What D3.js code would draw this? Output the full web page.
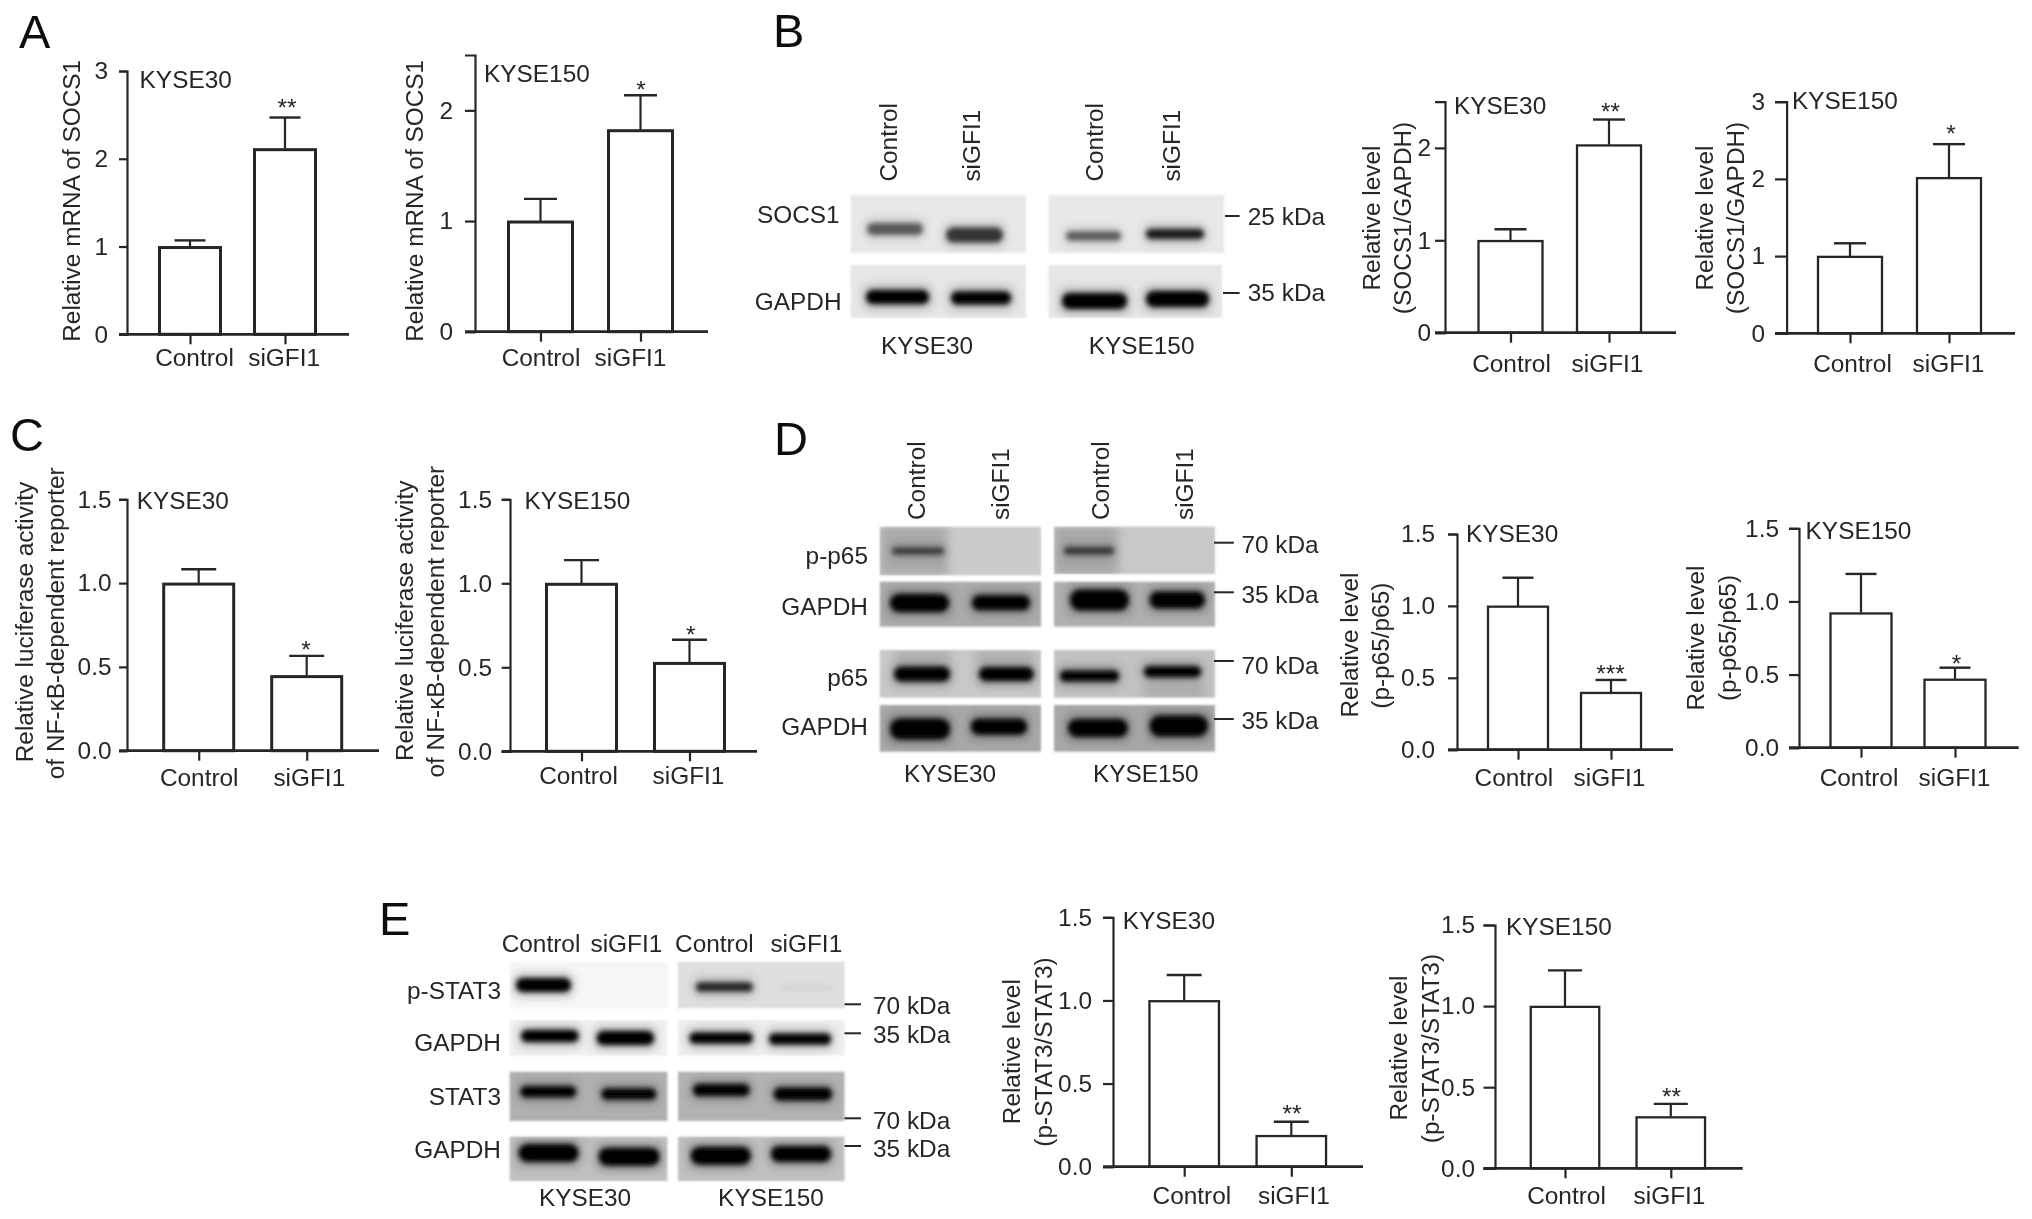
<!DOCTYPE html>
<html><head><meta charset="utf-8">
<script src="https://cdnjs.cloudflare.com/ajax/libs/d3/7.8.5/d3.min.js"></script>
<style>html,body{margin:0;padding:0;background:#fff}svg{display:block}
text{font-family:"Liberation Sans",Arial,sans-serif;fill:#262626;font-size:24.4px}</style>
</head><body><div id="chart"></div>
<script>
// ---------- data ----------
const categories = ['Control', 'siGFI1'];
const ticksInt = [0, 1, 2, 3];
const ticksHalf = [0, 0.5, 1.0, 1.5];

const a1Means = [1.0, 2.115], a1Tops = [1.07, 2.47], a1Stars = ['', '**'];
const a2Means = [1.0, 1.825], a2Tops = [1.20, 2.136], a2Stars = ['', '*'];
const b1Means = [1.0, 2.035], b1Tops = [1.12, 2.307], b1Stars = ['', '**'];
const b2Means = [1.0, 2.02], b2Tops = [1.166, 2.45], b2Stars = ['', '*'];
const c1Means = [1.0, 0.448], c1Tops = [1.083, 0.566], c1Stars = ['', '*'];
const c2Means = [1.0, 0.529], c2Tops = [1.138, 0.664], c2Stars = ['', '*'];
const d1Means = [1.0, 0.40], d1Tops = [1.196, 0.485], d1Stars = ['', '***'];
const d2Means = [0.923, 0.47], d2Tops = [1.188, 0.547], d2Stars = ['', '*'];
const e1Means = [1.0, 0.189], e1Tops = [1.153, 0.27], e1Stars = ['', '**'];
const e2Means = [1.0, 0.319], e2Tops = [1.22, 0.397], e2Stars = ['', '**'];

// ---------- layout of the bar panels ----------
const panels = [
 {m:a1Means,t:a1Tops,s:a1Stars,max:3,ticks:[0,1,2,3],fmt:'d',ax:127,y0:334.3,yT:71,x0:119,x1:349,tk:[190,285],bw:61,cap:31,lab:[194,283.6],labY:357.7,pad:11,title:'KYSE30',tx:139.6,ty:79.3,star:[287,105],yl:[[71.7,200.8,'Relative mRNA of SOCS1']],sw:3},
 {m:a2Means,t:a2Tops,s:a2Stars,max:2.5,ticks:[0,1,2],fmt:'d',ax:475,y0:331.7,yT:55,x0:465,x1:708,tk:[540.5,640.5],bw:64,cap:33,lab:[540.5,630],labY:357.7,pad:12,title:'KYSE150',tx:484,ty:73,star:[641,86.7],yl:[[414.4,200.8,'Relative mRNA of SOCS1']],sw:3},
 {m:b1Means,t:b1Tops,s:b1Stars,max:2.5,ticks:[0,1,2],fmt:'d',ax:1445,y0:332.7,yT:101.7,x0:1435,x1:1676,tk:[1510.5,1609],bw:64,cap:32,lab:[1511,1607],labY:363,pad:4,title:'KYSE30',tx:1454,ty:105,star:[1610.5,109],yl:[[1371,218,'Relative level'],[1402,218,'(SOCS1/GAPDH)']],sw:2.3},
 {m:b2Means,t:b2Tops,s:b2Stars,max:3,ticks:[0,1,2,3],fmt:'d',ax:1786.6,y0:333.3,yT:101.7,x0:1775,x1:2015,tk:[1850,1949],bw:64,cap:32,lab:[1852,1948],labY:363,pad:10,title:'KYSE150',tx:1792,ty:100,star:[1951,130.7],yl:[[1704,218,'Relative level'],[1735,218,'(SOCS1/GAPDH)']],sw:2.3},
 {m:c1Means,t:c1Tops,s:c1Stars,max:1.5,ticks:ticksHalf,fmt:'.1f',ax:127,y0:750.7,yT:499.3,x0:119,x1:379,tk:[198.7,306.7],bw:70,cap:35,lab:[198.7,308.8],labY:777.7,pad:7.5,title:'KYSE30',tx:136.7,ty:500,star:[306,647],yl:[[24,622,'Relative luciferase activity'],[54.8,623.3,'of NF-κB-dependent reporter']],sw:3},
 {m:c2Means,t:c2Tops,s:c2Stars,max:1.5,ticks:ticksHalf,fmt:'.1f',ax:510,y0:751.3,yT:499.3,x0:501.7,x1:757,tk:[581.5,689.5],bw:70,cap:35,lab:[578,688],labY:775.7,pad:9.7,title:'KYSE150',tx:524.5,ty:500,star:[690.7,631.7],yl:[[404.7,620.8,'Relative luciferase activity'],[434.8,621.7,'of NF-κB-dependent reporter']],sw:3},
 {m:d1Means,t:d1Tops,s:d1Stars,max:1.5,ticks:ticksHalf,fmt:'.1f',ax:1457,y0:749.7,yT:534,x0:1448,x1:1673,tk:[1518,1611],bw:60,cap:31,lab:[1513.4,1609],labY:777.3,pad:13,title:'KYSE30',tx:1466,ty:533,star:[1610.5,670.7],yl:[[1349,645,'Relative level'],[1380.6,645.7,'(p-p65/p65)']],sw:2.3},
 {m:d2Means,t:d2Tops,s:d2Stars,max:1.5,ticks:ticksHalf,fmt:'.1f',ax:1799,y0:747.7,yT:528.3,x0:1789,x1:2018.7,tk:[1861,1955],bw:61,cap:31,lab:[1858.5,1954],labY:777.3,pad:10,title:'KYSE150',tx:1805.6,ty:530.7,star:[1956.5,660.7],yl:[[1695,638,'Relative level'],[1727,638,'(p-p65/p65)']],sw:2.3},
 {m:e1Means,t:e1Tops,s:e1Stars,max:1.5,ticks:ticksHalf,fmt:'.1f',ax:1113,y0:1166.7,yT:917.3,x0:1103,x1:1363,tk:[1184.2,1291.3],bw:69.5,cap:35,lab:[1191.4,1293.4],labY:1195,pad:11,title:'KYSE30',tx:1122.8,ty:920.7,star:[1292,1110.7],yl:[[1011,1051.7,'Relative level'],[1043,1052,'(p-STAT3/STAT3)']],sw:2.3},
 {m:e2Means,t:e2Tops,s:e2Stars,max:1.5,ticks:ticksHalf,fmt:'.1f',ax:1495,y0:1168.3,yT:925,x0:1483.5,x1:1742.7,tk:[1565,1670.8],bw:68.5,cap:34,lab:[1566,1669],labY:1195,pad:8.5,title:'KYSE150',tx:1506,ty:926.7,star:[1671.5,1094],yl:[[1398,1048,'Relative level'],[1430,1048.6,'(p-STAT3/STAT3)']],sw:2.3},
];

// ---------- layout of the blots: gels [x1,x2,y1,y2,grey], smudges [x1,x2,y1,y2,opacity], bands [x1,x2,yc,h,darkness] ----------
const blots = [
 {gels:[[850.6,1026,195,253,'#e8e8e8'],[1048.6,1224,195,253,'#e8e8e8'],[850.6,1026,265,318,'#e6e6e6'],[1048.6,1222,265,318,'#e6e6e6']],
  smudges:[],
  bands:[[867,923,229,12,.55],[946,1003,235,15,.72],[1066,1121,236,9,.55],[1146,1204,234,10,.85],
         [866,929,297,14,1],[951,1011,298,13,1],[1062,1127,301,16,1],[1146,1209,299,16,1]]},
 {gels:[[879.8,1041,526.7,575.3,'#cbcbcb'],[1054,1215,526.7,574,'#c8c8c8'],[879.8,1041,581.7,626.7,'#ababab'],[1054,1215,581.7,626.7,'#b0b0b0'],
        [879.8,1041,650,697.7,'#c8c8c8'],[1054,1215,650,697.7,'#c2c2c2'],[879.8,1041,705,751.7,'#a8a8a8'],[1054,1215,705,751.7,'#a8a8a8']],
  smudges:[[880,948,526,576,.16],[1054,1118,526,575,.16],[895,950,650,662,.12],[975,1035,650,662,.12],[1144,1205,685,698,.12]],
  bands:[[892,944,551,7,.6],[1064,1114,550.7,7,.65],
         [890,949,603,18,1],[972,1030,602.7,15,1],[1070,1129,600,21,1],[1149.6,1205,600,17,1],
         [894,950,674,15,1],[979,1033.6,674,14,1],[1060,1119,676,11,1],[1144,1201,671.7,11,1],
         [890,950,729,21,1],[971,1027,726.7,16,1],[1068,1128,728,18,1],[1149.6,1208,726,21,1]]},
 {gels:[[509.7,667.4,961.7,1008.3,'#f6f6f6'],[678,844.5,961.7,1008.3,'#dedede'],[509.7,667.4,1020,1055.7,'#f0f0f0'],[678,844.5,1020,1055.7,'#eeeeee'],
        [509.7,667.4,1071.7,1121,'#b0b0b0'],[678,844.5,1071.7,1121,'#b3b3b3'],[509.7,667.4,1136.7,1181,'#c0c0c0'],[678,844.5,1136.7,1181,'#c0c0c0']],
  smudges:[],
  bands:[[516,571,985,14,1],[696,752.7,987,9,.8],[781,833,987.7,3,.06],
         [521,578.6,1036,12,1],[596.6,654,1038,14,1],[689.6,752.7,1038,11,1],[769,831,1039,11,1],
         [520.4,576,1091.7,11,1],[601.5,656,1094,11,1],[693,749.6,1090,12,1],[773.7,832,1094,13,1],
         [518.5,578.6,1153,18,1],[598.5,659.7,1156.7,18,1],[690.7,750.8,1155.7,18,1],[771,831,1154,16,1]]},
];

// rotated lane labels [text, baseline x, bottom y]
const laneLabels = [
 ['Control',896.7,181.6],['siGFI1',980,181.6],['Control',1103,181.6],['siGFI1',1180,181.6],
 ['Control',924.6,520],['siGFI1',1008.8,520],['Control',1109,520],['siGFI1',1192.5,520],
];
// plain labels [text, x, y, anchor]
const plainLabels = [
 ['SOCS1',839.6,214,'end'],['GAPDH',841.6,301.7,'end'],['KYSE30',927,345,'middle'],['KYSE150',1141.6,345,'middle'],
 ['25 kDa',1247.8,216,'start'],['35 kDa',1247.8,292.7,'start'],
 ['p-p65',868,555,'end'],['GAPDH',868,606,'end'],['p65',868,677.3,'end'],['GAPDH',868,726.7,'end'],
 ['KYSE30',950,773.3,'middle'],['KYSE150',1145.8,773.3,'middle'],
 ['70 kDa',1241.4,544,'start'],['35 kDa',1241.4,594,'start'],['70 kDa',1241.4,665,'start'],['35 kDa',1241.4,720.7,'start'],
 ['Control',541,943.3,'middle'],['siGFI1',626.4,943.3,'middle'],['Control',714.4,943.3,'middle'],['siGFI1',806.3,943.3,'middle'],
 ['p-STAT3',501,990,'end'],['GAPDH',501,1042.7,'end'],['STAT3',501,1096,'end'],['GAPDH',501,1149.3,'end'],
 ['KYSE30',585,1197.7,'middle'],['KYSE150',771,1197.7,'middle'],
 ['70 kDa',873,1005,'start'],['35 kDa',873,1034,'start'],['70 kDa',873,1120.7,'start'],['35 kDa',873,1148.3,'start'],
];
// small marker dashes [x1,x2,y]
const markers = [[1225,1239.6,216],[1223,1239.6,293],
 [1214,1233.8,542.7],[1214,1233.8,592.3],[1214,1233.8,661],[1214,1233.8,719],
 [844.5,861,1004.3],[844.5,861,1033.3],[844.5,861,1118.3],[844.5,861,1146]];
// panel letters [text,x,baseline]
const letters = [['A',19,47.7],['B',773,46.7],['C',10,451],['D',774,455],['E',379,935]];

// ---------- drawing ----------
const W = 2032, H = 1219, ink = '#262626';
const svg = d3.select('#chart').append('svg').attr('width', W).attr('height', H).attr('viewBox', `0 0 ${W} ${H}`);
const defs = svg.append('defs');
const filt = (id, sd) => defs.append('filter').attr('id', id).attr('filterUnits', 'userSpaceOnUse')
  .attr('x', 0).attr('y', 0).attr('width', W).attr('height', H)
  .append('feGaussianBlur').attr('stdDeviation', sd);
filt('soft', 0.65); filt('band', 2.6); filt('halo', 5); filt('gel', 1.2);
svg.append('rect').attr('width', W).attr('height', H).attr('fill', '#fff');
const root = svg.append('g').attr('filter', 'url(#soft)');

// blots
blots.forEach((b, i) => {
  const clip = defs.append('clipPath').attr('id', `gelclip${i}`);
  clip.selectAll('rect').data(b.gels).join('rect')
    .attr('x', d => d[0]).attr('y', d => d[2]).attr('width', d => d[1] - d[0]).attr('height', d => d[3] - d[2]);
  root.append('g').attr('filter', 'url(#gel)').selectAll('rect').data(b.gels).join('rect')
    .attr('x', d => d[0]).attr('y', d => d[2]).attr('width', d => d[1] - d[0]).attr('height', d => d[3] - d[2]).attr('fill', d => d[4]);
  const inner = root.append('g').attr('clip-path', `url(#gelclip${i})`);
  inner.append('g').attr('filter', 'url(#halo)').selectAll('rect').data(b.smudges).join('rect')
    .attr('x', d => d[0]).attr('y', d => d[2]).attr('width', d => d[1] - d[0]).attr('height', d => d[3] - d[2])
    .attr('fill', '#000').attr('opacity', d => d[4]);
  inner.append('g').attr('filter', 'url(#halo)').selectAll('rect').data(b.bands).join('rect')
    .attr('x', d => d[0] - 2).attr('y', d => d[2] - d[3] / 2 - 4).attr('width', d => d[1] - d[0] + 4).attr('height', d => d[3] + 8)
    .attr('rx', 6).attr('fill', '#000').attr('opacity', d => d[4] * 0.28);
  inner.append('g').attr('filter', 'url(#band)').selectAll('rect').data(b.bands).join('rect')
    .attr('x', d => d[0]).attr('y', d => d[2] - d[3] / 2).attr('width', d => d[1] - d[0]).attr('height', d => d[3])
    .attr('rx', d => d[3] / 2).attr('fill', '#000').attr('opacity', d => d[4]);
});
root.append('g').selectAll('text').data(laneLabels).join('text').text(d => d[0])
  .attr('transform', d => `translate(${d[1]},${d[2]}) rotate(-90)`);
root.append('g').selectAll('text').data(plainLabels).join('text').text(d => d[0])
  .attr('x', d => d[1]).attr('y', d => d[2]).attr('dy', '0.36em').attr('text-anchor', d => d[3]);
root.append('g').selectAll('line').data(markers).join('line')
  .attr('x1', d => d[0]).attr('x2', d => d[1]).attr('y1', d => d[2]).attr('y2', d => d[2]).attr('stroke', ink).attr('stroke-width', 2);
root.append('g').selectAll('text').data(letters).join('text').text(d => d[0])
  .attr('x', d => d[1]).attr('y', d => d[2]).style('font-size', '47px').style('fill', '#111');

// bar panels
panels.forEach(p => {
  const g = root.append('g');
  const y = d3.scaleLinear().domain([0, p.max]).range([p.y0, p.yT]);
  const x = d3.scalePoint().domain(categories).range(p.tk);
  const rows = categories.map((c, i) => ({c, mean: p.m[i], top: p.t[i], star: p.s[i], lab: p.lab[i]}));

  // error whiskers
  g.selectAll('line.err').data(rows).join('line').attr('class', 'err')
    .attr('x1', d => x(d.c)).attr('x2', d => x(d.c)).attr('y1', d => y(d.mean)).attr('y2', d => y(d.top))
    .attr('stroke', ink).attr('stroke-width', 2.2);
  g.selectAll('line.cap').data(rows).join('line').attr('class', 'cap')
    .attr('x1', d => x(d.c) - p.cap / 2).attr('x2', d => x(d.c) + p.cap / 2).attr('y1', d => y(d.top)).attr('y2', d => y(d.top))
    .attr('stroke', ink).attr('stroke-width', 2.4);
  // bars (outline kept inside the value line)
  g.selectAll('rect.bar').data(rows).join('rect').attr('class', 'bar')
    .attr('x', d => x(d.c) - p.bw / 2).attr('width', p.bw)
    .attr('y', d => y(d.mean) + p.sw / 3).attr('height', d => y(0) - y(d.mean) - p.sw / 3)
    .attr('fill', '#fff').attr('stroke', ink).attr('stroke-width', p.sw);

  // y axis
  const ya = d3.axisLeft(y).tickValues(p.ticks).tickFormat(d3.format(p.fmt)).tickSizeOuter(0).tickSize(p.ax - p.x0).tickPadding(p.pad);
  const yg = g.append('g').attr('transform', `translate(${p.ax},0)`).call(ya);
  yg.selectAll('path,line').attr('stroke', ink).attr('stroke-width', 2.2);
  yg.selectAll('text').style('font-size', '24.4px').style('font-family', '"Liberation Sans",Arial,sans-serif').attr('fill', '#262626');

  // x baseline and axis
  const xa = d3.axisBottom(x).tickSize(10).tickPadding(0).tickSizeOuter(0);
  const xg = g.append('g').attr('transform', `translate(0,${p.y0})`).call(xa);
  xg.select('.domain').remove();
  xg.selectAll('line').attr('stroke', ink).attr('stroke-width', 2.2);
  xg.selectAll('text').data(rows).style('font-size', '24.4px').style('font-family', '"Liberation Sans",Arial,sans-serif')
    .attr('fill', '#262626').attr('x', d => d.lab - x(d.c)).attr('y', p.labY - p.y0).attr('dy', '0.36em');
  g.append('line').attr('x1', p.x0).attr('x2', p.x1).attr('y1', y(0)).attr('y2', y(0)).attr('stroke', ink).attr('stroke-width', 2.8);

  // title, significance, y labels
  g.append('text').text(p.title).attr('x', p.tx).attr('y', p.ty).attr('dy', '0.36em');
  g.append('text').text(rows[1].star).attr('x', p.star[0]).attr('y', p.star[1]).attr('dy', '0.47em').attr('text-anchor', 'middle');
  g.selectAll('text.yl').data(p.yl).join('text').attr('class', 'yl').text(d => d[2])
    .attr('text-anchor', 'middle').attr('dy', '0.36em')
    .attr('transform', d => `translate(${d[0]},${d[1]}) rotate(-90)`);
});
</script></body></html>
